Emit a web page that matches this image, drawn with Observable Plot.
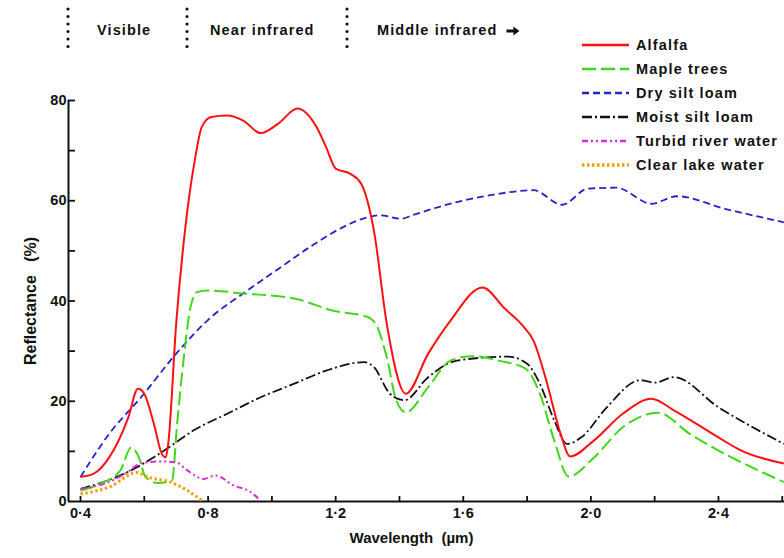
<!DOCTYPE html>
<html>
<head>
<meta charset="utf-8">
<script src="https://cdn.jsdelivr.net/npm/d3@7"></script>
<script src="https://cdn.jsdelivr.net/npm/@observablehq/plot@0.6"></script>
<style>
  body { margin: 0; background: #fff; }
  #wrap { position: relative; width: 784px; height: 558px; overflow: hidden;
          font-family: "Liberation Sans", Arial, sans-serif; font-weight: bold; color: #111; }
  #wrap svg text { white-space: pre; }
  .overlay { position: absolute; left: 0; top: 0; pointer-events: none; }
</style>
</head>
<body>
<div id="wrap"></div>
<script>
// ---------------- data (wavelength in µm, reflectance in %) ----------------
const alfalfaX = [0.40,0.44,0.49,0.55,0.58,0.60,0.63,0.655,0.667,0.675,0.70,0.73,0.76,0.78,0.81,0.86,0.91,0.965,1.02,1.08,1.14,1.17,1.20,1.245,1.28,1.32,1.36,1.42,1.49,1.56,1.66,1.73,1.79,1.82,1.86,1.905,1.935,2.01,2.10,2.19,2.26,2.40,2.47,2.605];
const alfalfaY = [4.9,5.5,8.8,16.8,22.5,21.5,15.5,9.5,8.8,11.5,35.5,55.4,68.7,74.7,76.7,77.0,76.0,73.5,75.4,78.4,74.7,70.7,66.4,65.4,63.4,54.0,35.5,21.5,29.5,36.1,42.7,38.5,34.8,32.1,24.2,13.5,9.0,12.2,17.5,20.5,18.2,12.8,10.2,7.6];

const mapleX = [0.40,0.46,0.525,0.559,0.583,0.604,0.64,0.687,0.703,0.724,0.745,0.766,0.80,0.91,1.07,1.19,1.30,1.325,1.36,1.39,1.42,1.49,1.56,1.63,1.71,1.795,1.84,1.885,1.93,2.01,2.10,2.21,2.31,2.42,2.605];
const mapleY = [2.2,3.5,6.2,10.8,8.8,4.9,3.7,4.2,15.5,28.8,38.8,41.8,42.1,41.5,40.5,38.1,36.8,35.5,28.8,20.2,17.8,22.8,28.1,29.0,28.1,26.5,21.5,12.2,5.0,8.8,14.8,17.7,13.5,9.5,3.9];

const drySiltX = [0.40,0.49,0.59,0.70,0.81,0.91,1.02,1.12,1.225,1.30,1.34,1.405,1.44,1.53,1.685,1.82,1.91,1.99,2.08,2.19,2.27,2.42,2.605];
const drySiltY = [4.9,13.5,20.8,29.5,36.8,41.5,46.4,50.8,54.8,56.7,57.1,56.4,57.1,58.9,61.1,62.1,59.2,62.4,62.6,59.4,60.9,58.4,55.7];

const moistSiltX = [0.40,0.525,0.59,0.67,0.755,0.86,0.965,1.07,1.17,1.29,1.32,1.37,1.415,1.49,1.58,1.74,1.80,1.84,1.885,1.925,1.97,2.05,2.155,2.20,2.26,2.40,2.605];
const moistSiltY = [2.5,5.2,7.3,10.5,14.2,17.5,20.8,23.5,26.1,27.8,26.8,21.5,20.2,24.8,28.1,28.9,27.5,23.5,16.2,11.5,12.8,18.8,24.2,23.7,24.8,18.8,11.5];

const turbidX = [0.40,0.49,0.546,0.588,0.65,0.70,0.735,0.787,0.823,0.88,0.933,0.964];
const turbidY = [2.5,3.9,5.8,7.6,8.0,7.8,6.2,4.5,5.2,3.2,1.9,0.2];

const clearLakeX = [0.40,0.49,0.578,0.61,0.68,0.735,0.78];
const clearLakeY = [1.5,2.9,5.8,4.9,3.9,2.2,0.2];

const seriesNames = ["Alfalfa","Maple trees","Dry silt loam","Moist silt loam","Turbid river water","Clear lake water"];
const seriesX = [alfalfaX, mapleX, drySiltX, moistSiltX, turbidX, clearLakeX];
const seriesY = [alfalfaY, mapleY, drySiltY, moistSiltY, turbidY, clearLakeY];
const seriesColors = ["#ff1010","#3ed814","#2424c8","#111111","#d830d0","#f0a000"];
const seriesDash = [null, "14,5", "7,4", "10,3,2,3", "6,3,2,3,2,3", "2.5,2.5"];
const seriesWidth = [2, 2, 1.8, 1.8, 2, 3];

const xTicks = [0.4,0.6,0.8,1.0,1.2,1.4,1.6,1.8,2.0,2.2,2.4,2.6];
const xLabelTicks = [0.4,0.8,1.2,1.6,2.0,2.4];
const yTicks = [10,20,30,40,50,60,70,80];
const yLabelTicks = [0,20,40,60,80];
const xDomain = [0.3624, 2.607];
const yDomain = [0, 80];

const bandLabels = ["Visible", "Near infrared", "Middle infrared"];

// ---------------- chart ----------------
const W = 784, H = 558, mT = 100, mB = 57, mL = 68, mR = 0;
const frameW = W - mL - mR, frameH = H - mT - mB;
const fmt = d => d.toFixed(1).replace(".", "\u00b7");

const rows = seriesNames.flatMap((name, i) =>
  seriesX[i].map((x, j) => ({series: name, x, y: seriesY[i][j]})));

const drawOrder = [2, 3, 1, 4, 5, 0];
const lineMarks = drawOrder.map(i =>
  Plot.line(rows.filter(d => d.series === seriesNames[i]), {
    x: "x", y: "y", curve: "monotone-x",
    stroke: seriesColors[i], strokeWidth: seriesWidth[i],
    strokeDasharray: seriesDash[i] || undefined,
    strokeLinecap: "butt"
  }));

const chart = Plot.plot({
  width: W, height: H,
  marginTop: mT, marginBottom: mB, marginLeft: mL, marginRight: mR,
  style: {fontFamily: "'Liberation Sans', Arial, sans-serif", fontSize: "14px", fontWeight: "bold", color: "#111", background: "transparent"},
  x: {domain: xDomain},
  y: {domain: yDomain},
  marks: [
    // inward tick marks
    Plot.tickX(xTicks, {x: d => d, insetTop: frameH - 5, stroke: "#111", strokeWidth: 1.8}),
    Plot.tickY(yTicks, {y: d => d, insetRight: frameW - 7, stroke: "#111", strokeWidth: 1.8}),
    // labels
    Plot.axisX(xLabelTicks, {tickSize: 0, tickPadding: 6, tickFormat: fmt, label: null, fontSize: 14.5}),
    Plot.axisY(yLabelTicks, {tickSize: 0, tickPadding: 2, label: null, fontSize: 14.5}),
    // axis lines
    Plot.ruleY([0], {strokeWidth: 2, stroke: "#111"}),
    Plot.ruleX([xDomain[0]], {y1: yDomain[0], y2: yDomain[1], strokeWidth: 2, stroke: "#111"}),
    ...lineMarks,
    Plot.text(["Wavelength  (\u00b5m)"], {frameAnchor: "bottom", dx: -15, dy: 41, fontSize: 15, fontWeight: "bold", fill: "#111", style: "letter-spacing:1.1px"}),
    Plot.text(["Reflectance   (%)"], {frameAnchor: "left", textAnchor: "middle", dx: -38, rotate: -90, fontSize: 16, fontWeight: "bold", fill: "#111", style: "letter-spacing:2px"})
  ]
});
document.getElementById("wrap").appendChild(chart);

// ---------------- overlays: band labels and legend ----------------
const ov = d3.select("#wrap").append("svg").attr("class", "overlay")
  .attr("width", W).attr("height", H)
  .style("font-family", "'Liberation Sans', Arial, sans-serif").style("font-weight", "bold");

// dotted band separators
const sepX = [68, 187, 347];
const labelX = [97, 210, 377];
sepX.forEach(x => {
  ov.append("line").attr("x1", x).attr("x2", x).attr("y1", 9).attr("y2", 48)
    .attr("stroke", "#111").attr("stroke-width", 3.2).attr("stroke-linecap", "round")
    .attr("stroke-dasharray", "0,7.5");
});
const bandTexts = bandLabels.map((t, i) =>
  ov.append("text").attr("x", labelX[i]).attr("y", 35).text(t)
    .attr("font-size", 14.5).attr("fill", "#111").style("letter-spacing", "1.1px"));
// arrow after "Middle infrared"
const lastBox = bandTexts[2].node().getBBox();
const ax = lastBox.x + lastBox.width + 9;
ov.append("path")
  .attr("d", `M${ax},29.5 L${ax + 7},29.5 L${ax + 7},26.5 L${ax + 13},31 L${ax + 7},35.5 L${ax + 7},32.5 L${ax},32.5 Z`)
  .attr("fill", "#111");

// legend
seriesNames.forEach((name, i) => {
  const y = 45 + 24 * i;
  ov.append("line").attr("x1", 582).attr("x2", 629).attr("y1", y).attr("y2", y)
    .attr("stroke", seriesColors[i]).attr("stroke-width", seriesWidth[i] + 0.5)
    .attr("stroke-dasharray", seriesDash[i] || null);
  ov.append("text").attr("x", 636).attr("y", y).attr("dy", "0.36em").text(name)
    .attr("font-size", 14.5).attr("fill", "#111").style("letter-spacing", "1.15px");
});
</script>
</body>
</html>
